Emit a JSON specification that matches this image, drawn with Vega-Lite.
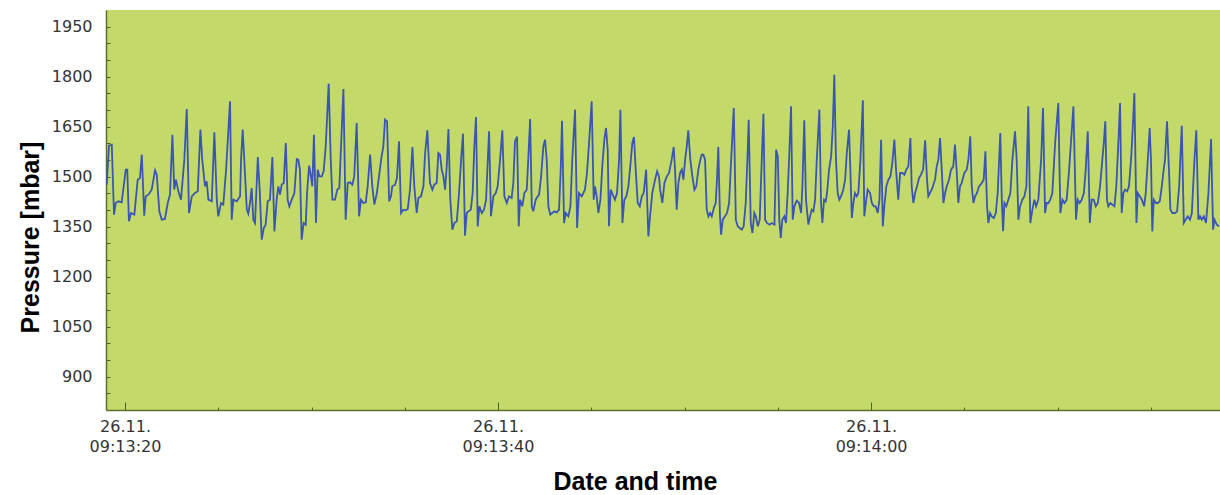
{
  "$schema": "https://vega.github.io/schema/vega-lite/v6.json",
  "width": 1114,
  "height": 400,
  "autosize": "none",
  "padding": {"left": 106, "top": 10, "right": 0, "bottom": 85},
  "background": "white",
  "config": {"view": {"fill": "#c3d96a", "stroke": null}},
  "data": {"values": [
    {"time":"2023-11-26T09:13:19.020","p":1476},{"time":"2023-11-26T09:13:19.140","p":1593},{"time":"2023-11-26T09:13:19.290","p":1596},{"time":"2023-11-26T09:13:19.410","p":1386},{"time":"2023-11-26T09:13:19.500","p":1421},{"time":"2023-11-26T09:13:19.640","p":1426},{"time":"2023-11-26T09:13:19.820","p":1423},{"time":"2023-11-26T09:13:20.040","p":1521},{"time":"2023-11-26T09:13:20.120","p":1521},{"time":"2023-11-26T09:13:20.210","p":1366},{"time":"2023-11-26T09:13:20.320","p":1391},{"time":"2023-11-26T09:13:20.500","p":1386},{"time":"2023-11-26T09:13:20.680","p":1491},{"time":"2023-11-26T09:13:20.800","p":1496},{"time":"2023-11-26T09:13:20.900","p":1566},{"time":"2023-11-26T09:13:21.030","p":1383},{"time":"2023-11-26T09:13:21.110","p":1441},{"time":"2023-11-26T09:13:21.250","p":1446},{"time":"2023-11-26T09:13:21.430","p":1461},{"time":"2023-11-26T09:13:21.610","p":1519},{"time":"2023-11-26T09:13:21.700","p":1506},{"time":"2023-11-26T09:13:21.840","p":1396},{"time":"2023-11-26T09:13:21.970","p":1371},{"time":"2023-11-26T09:13:22.140","p":1373},{"time":"2023-11-26T09:13:22.290","p":1421},{"time":"2023-11-26T09:13:22.410","p":1446},{"time":"2023-11-26T09:13:22.540","p":1626},{"time":"2023-11-26T09:13:22.640","p":1461},{"time":"2023-11-26T09:13:22.730","p":1491},{"time":"2023-11-26T09:13:22.860","p":1456},{"time":"2023-11-26T09:13:23.000","p":1431},{"time":"2023-11-26T09:13:23.180","p":1551},{"time":"2023-11-26T09:13:23.310","p":1703},{"time":"2023-11-26T09:13:23.430","p":1391},{"time":"2023-11-26T09:13:23.580","p":1441},{"time":"2023-11-26T09:13:23.750","p":1451},{"time":"2023-11-26T09:13:23.900","p":1456},{"time":"2023-11-26T09:13:24.040","p":1641},{"time":"2023-11-26T09:13:24.140","p":1551},{"time":"2023-11-26T09:13:24.290","p":1471},{"time":"2023-11-26T09:13:24.380","p":1486},{"time":"2023-11-26T09:13:24.470","p":1431},{"time":"2023-11-26T09:13:24.650","p":1426},{"time":"2023-11-26T09:13:24.790","p":1633},{"time":"2023-11-26T09:13:24.920","p":1431},{"time":"2023-11-26T09:13:25.000","p":1381},{"time":"2023-11-26T09:13:25.150","p":1421},{"time":"2023-11-26T09:13:25.270","p":1416},{"time":"2023-11-26T09:13:25.420","p":1521},{"time":"2023-11-26T09:13:25.630","p":1726},{"time":"2023-11-26T09:13:25.720","p":1371},{"time":"2023-11-26T09:13:25.810","p":1431},{"time":"2023-11-26T09:13:25.990","p":1426},{"time":"2023-11-26T09:13:26.170","p":1441},
    {"time":"2023-11-26T09:13:26.220","p":1551},{"time":"2023-11-26T09:13:26.310","p":1641},{"time":"2023-11-26T09:13:26.530","p":1401},{"time":"2023-11-26T09:13:26.610","p":1389},{"time":"2023-11-26T09:13:26.700","p":1421},{"time":"2023-11-26T09:13:26.790","p":1466},{"time":"2023-11-26T09:13:26.880","p":1371},{"time":"2023-11-26T09:13:26.970","p":1361},{"time":"2023-11-26T09:13:27.120","p":1559},{"time":"2023-11-26T09:13:27.220","p":1461},{"time":"2023-11-26T09:13:27.330","p":1311},{"time":"2023-11-26T09:13:27.440","p":1346},{"time":"2023-11-26T09:13:27.540","p":1356},{"time":"2023-11-26T09:13:27.650","p":1426},{"time":"2023-11-26T09:13:27.770","p":1431},{"time":"2023-11-26T09:13:27.900","p":1559},{"time":"2023-11-26T09:13:28.010","p":1336},{"time":"2023-11-26T09:13:28.130","p":1431},{"time":"2023-11-26T09:13:28.220","p":1471},{"time":"2023-11-26T09:13:28.310","p":1446},{"time":"2023-11-26T09:13:28.400","p":1476},{"time":"2023-11-26T09:13:28.510","p":1481},{"time":"2023-11-26T09:13:28.620","p":1601},{"time":"2023-11-26T09:13:28.720","p":1431},{"time":"2023-11-26T09:13:28.810","p":1411},{"time":"2023-11-26T09:13:28.940","p":1431},{"time":"2023-11-26T09:13:29.080","p":1451},{"time":"2023-11-26T09:13:29.210","p":1553},{"time":"2023-11-26T09:13:29.290","p":1551},{"time":"2023-11-26T09:13:29.380","p":1521},{"time":"2023-11-26T09:13:29.470","p":1311},{"time":"2023-11-26T09:13:29.580","p":1361},{"time":"2023-11-26T09:13:29.690","p":1356},{"time":"2023-11-26T09:13:29.760","p":1451},{"time":"2023-11-26T09:13:29.870","p":1533},{"time":"2023-11-26T09:13:29.970","p":1501},{"time":"2023-11-26T09:13:30.040","p":1471},{"time":"2023-11-26T09:13:30.130","p":1626},{"time":"2023-11-26T09:13:30.240","p":1361},{"time":"2023-11-26T09:13:30.330","p":1521},{"time":"2023-11-26T09:13:30.420","p":1501},{"time":"2023-11-26T09:13:30.550","p":1501},{"time":"2023-11-26T09:13:30.650","p":1516},{"time":"2023-11-26T09:13:30.760","p":1591},{"time":"2023-11-26T09:13:30.920","p":1779},{"time":"2023-11-26T09:13:31.030","p":1551},{"time":"2023-11-26T09:13:31.120","p":1431},{"time":"2023-11-26T09:13:31.260","p":1431},{"time":"2023-11-26T09:13:31.380","p":1461},{"time":"2023-11-26T09:13:31.490","p":1466},{"time":"2023-11-26T09:13:31.710","p":1763},{"time":"2023-11-26T09:13:31.830","p":1371},{"time":"2023-11-26T09:13:31.940","p":1481},{"time":"2023-11-26T09:13:32.060","p":1483},{"time":"2023-11-26T09:13:32.190","p":1476},{"time":"2023-11-26T09:13:32.290","p":1501},{"time":"2023-11-26T09:13:32.420","p":1661},{"time":"2023-11-26T09:13:32.550","p":1381},{"time":"2023-11-26T09:13:32.650","p":1431},{"time":"2023-11-26T09:13:32.780","p":1421},{"time":"2023-11-26T09:13:32.910","p":1423},{"time":"2023-11-26T09:13:33.010","p":1471},{"time":"2023-11-26T09:13:33.140","p":1566},{"time":"2023-11-26T09:13:33.260","p":1471},{"time":"2023-11-26T09:13:33.370","p":1416},{"time":"2023-11-26T09:13:33.500","p":1450},
    {"time":"2023-11-26T09:13:33.620","p":1501},{"time":"2023-11-26T09:13:33.730","p":1551},{"time":"2023-11-26T09:13:33.850","p":1591},{"time":"2023-11-26T09:13:33.940","p":1671},{"time":"2023-11-26T09:13:34.050","p":1666},{"time":"2023-11-26T09:13:34.160","p":1426},{"time":"2023-11-26T09:13:34.260","p":1441},{"time":"2023-11-26T09:13:34.330","p":1471},{"time":"2023-11-26T09:13:34.480","p":1476},{"time":"2023-11-26T09:13:34.580","p":1496},{"time":"2023-11-26T09:13:34.690","p":1606},{"time":"2023-11-26T09:13:34.800","p":1391},{"time":"2023-11-26T09:13:34.920","p":1401},{"time":"2023-11-26T09:13:35.050","p":1399},{"time":"2023-11-26T09:13:35.160","p":1403},{"time":"2023-11-26T09:13:35.280","p":1461},{"time":"2023-11-26T09:13:35.410","p":1589},{"time":"2023-11-26T09:13:35.510","p":1471},{"time":"2023-11-26T09:13:35.640","p":1391},{"time":"2023-11-26T09:13:35.730","p":1436},{"time":"2023-11-26T09:13:35.870","p":1441},{"time":"2023-11-26T09:13:36.000","p":1471},{"time":"2023-11-26T09:13:36.090","p":1571},{"time":"2023-11-26T09:13:36.210","p":1639},{"time":"2023-11-26T09:13:36.350","p":1481},{"time":"2023-11-26T09:13:36.480","p":1461},{"time":"2023-11-26T09:13:36.580","p":1476},{"time":"2023-11-26T09:13:36.710","p":1481},{"time":"2023-11-26T09:13:36.800","p":1571},{"time":"2023-11-26T09:13:36.890","p":1566},{"time":"2023-11-26T09:13:36.980","p":1521},{"time":"2023-11-26T09:13:37.070","p":1501},{"time":"2023-11-26T09:13:37.160","p":1461},{"time":"2023-11-26T09:13:37.250","p":1531},{"time":"2023-11-26T09:13:37.340","p":1643},{"time":"2023-11-26T09:13:37.440","p":1431},{"time":"2023-11-26T09:13:37.550","p":1341},{"time":"2023-11-26T09:13:37.660","p":1361},{"time":"2023-11-26T09:13:37.790","p":1366},{"time":"2023-11-26T09:13:37.910","p":1451},{"time":"2023-11-26T09:13:38.020","p":1551},{"time":"2023-11-26T09:13:38.120","p":1629},{"time":"2023-11-26T09:13:38.230","p":1323},{"time":"2023-11-26T09:13:38.320","p":1391},{"time":"2023-11-26T09:13:38.410","p":1396},{"time":"2023-11-26T09:13:38.540","p":1401},{"time":"2023-11-26T09:13:38.640","p":1451},{"time":"2023-11-26T09:13:38.730","p":1591},{"time":"2023-11-26T09:13:38.820","p":1679},{"time":"2023-11-26T09:13:38.910","p":1351},{"time":"2023-11-26T09:13:39.000","p":1411},{"time":"2023-11-26T09:13:39.130","p":1391},{"time":"2023-11-26T09:13:39.250","p":1401},{"time":"2023-11-26T09:13:39.360","p":1431},{"time":"2023-11-26T09:13:39.450","p":1551},{"time":"2023-11-26T09:13:39.520","p":1636},{"time":"2023-11-26T09:13:39.620","p":1381},{"time":"2023-11-26T09:13:39.750","p":1441},{"time":"2023-11-26T09:13:39.880","p":1451},{"time":"2023-11-26T09:13:39.980","p":1471},{"time":"2023-11-26T09:13:40.110","p":1551},{"time":"2023-11-26T09:13:40.230","p":1639},{"time":"2023-11-26T09:13:40.340","p":1441},{"time":"2023-11-26T09:13:40.470","p":1421},{"time":"2023-11-26T09:13:40.590","p":1441},{"time":"2023-11-26T09:13:40.730","p":1436},{"time":"2023-11-26T09:13:40.820","p":1481},{"time":"2023-11-26T09:13:40.910","p":1606},{"time":"2023-11-26T09:13:41.020","p":1620},{"time":"2023-11-26T09:13:41.110","p":1351},
    {"time":"2023-11-26T09:13:41.180","p":1431},{"time":"2023-11-26T09:13:41.300","p":1411},{"time":"2023-11-26T09:13:41.410","p":1451},{"time":"2023-11-26T09:13:41.540","p":1461},{"time":"2023-11-26T09:13:41.620","p":1551},{"time":"2023-11-26T09:13:41.720","p":1673},{"time":"2023-11-26T09:13:41.810","p":1411},{"time":"2023-11-26T09:13:41.890","p":1396},{"time":"2023-11-26T09:13:42.020","p":1431},{"time":"2023-11-26T09:13:42.130","p":1441},{"time":"2023-11-26T09:13:42.200","p":1446},{"time":"2023-11-26T09:13:42.310","p":1501},{"time":"2023-11-26T09:13:42.430","p":1591},{"time":"2023-11-26T09:13:42.520","p":1611},{"time":"2023-11-26T09:13:42.610","p":1551},{"time":"2023-11-26T09:13:42.700","p":1411},{"time":"2023-11-26T09:13:42.800","p":1386},{"time":"2023-11-26T09:13:42.910","p":1391},{"time":"2023-11-26T09:13:43.020","p":1396},{"time":"2023-11-26T09:13:43.150","p":1393},{"time":"2023-11-26T09:13:43.270","p":1401},{"time":"2023-11-26T09:13:43.360","p":1521},{"time":"2023-11-26T09:13:43.430","p":1668},{"time":"2023-11-26T09:13:43.540","p":1361},{"time":"2023-11-26T09:13:43.630","p":1391},{"time":"2023-11-26T09:13:43.770","p":1381},{"time":"2023-11-26T09:13:43.880","p":1411},{"time":"2023-11-26T09:13:43.980","p":1551},{"time":"2023-11-26T09:13:44.130","p":1701},{"time":"2023-11-26T09:13:44.240","p":1346},{"time":"2023-11-26T09:13:44.340","p":1451},{"time":"2023-11-26T09:13:44.490","p":1441},{"time":"2023-11-26T09:13:44.660","p":1461},{"time":"2023-11-26T09:13:44.770","p":1511},{"time":"2023-11-26T09:13:44.880","p":1601},{"time":"2023-11-26T09:13:45.020","p":1726},{"time":"2023-11-26T09:13:45.130","p":1431},{"time":"2023-11-26T09:13:45.200","p":1471},{"time":"2023-11-26T09:13:45.290","p":1441},{"time":"2023-11-26T09:13:45.380","p":1391},{"time":"2023-11-26T09:13:45.490","p":1431},{"time":"2023-11-26T09:13:45.590","p":1531},{"time":"2023-11-26T09:13:45.700","p":1611},{"time":"2023-11-26T09:13:45.790","p":1646},{"time":"2023-11-26T09:13:45.880","p":1581},{"time":"2023-11-26T09:13:45.950","p":1351},{"time":"2023-11-26T09:13:46.040","p":1461},{"time":"2023-11-26T09:13:46.150","p":1446},{"time":"2023-11-26T09:13:46.270","p":1431},{"time":"2023-11-26T09:13:46.380","p":1451},{"time":"2023-11-26T09:13:46.490","p":1551},{"time":"2023-11-26T09:13:46.560","p":1701},{"time":"2023-11-26T09:13:46.670","p":1361},{"time":"2023-11-26T09:13:46.770","p":1431},{"time":"2023-11-26T09:13:46.880","p":1441},{"time":"2023-11-26T09:13:46.990","p":1471},{"time":"2023-11-26T09:13:47.090","p":1531},{"time":"2023-11-26T09:13:47.200","p":1601},{"time":"2023-11-26T09:13:47.290","p":1619},{"time":"2023-11-26T09:13:47.380","p":1521},{"time":"2023-11-26T09:13:47.490","p":1421},{"time":"2023-11-26T09:13:47.600","p":1411},{"time":"2023-11-26T09:13:47.710","p":1441},{"time":"2023-11-26T09:13:47.810","p":1451},{"time":"2023-11-26T09:13:47.940","p":1521},{"time":"2023-11-26T09:13:48.060","p":1321},{"time":"2023-11-26T09:13:48.150","p":1381},{"time":"2023-11-26T09:13:48.270","p":1451},{"time":"2023-11-26T09:13:48.420","p":1491},{"time":"2023-11-26T09:13:48.530","p":1516},{"time":"2023-11-26T09:13:48.630","p":1500},
    {"time":"2023-11-26T09:13:48.690","p":1461},{"time":"2023-11-26T09:13:48.810","p":1421},{"time":"2023-11-26T09:13:48.920","p":1481},{"time":"2023-11-26T09:13:49.050","p":1501},{"time":"2023-11-26T09:13:49.170","p":1511},{"time":"2023-11-26T09:13:49.310","p":1551},{"time":"2023-11-26T09:13:49.420","p":1589},{"time":"2023-11-26T09:13:49.490","p":1521},{"time":"2023-11-26T09:13:49.580","p":1401},{"time":"2023-11-26T09:13:49.670","p":1481},{"time":"2023-11-26T09:13:49.760","p":1511},{"time":"2023-11-26T09:13:49.850","p":1521},{"time":"2023-11-26T09:13:49.940","p":1491},{"time":"2023-11-26T09:13:50.030","p":1551},{"time":"2023-11-26T09:13:50.120","p":1591},{"time":"2023-11-26T09:13:50.200","p":1639},{"time":"2023-11-26T09:13:50.310","p":1551},{"time":"2023-11-26T09:13:50.420","p":1501},{"time":"2023-11-26T09:13:50.530","p":1461},{"time":"2023-11-26T09:13:50.630","p":1471},{"time":"2023-11-26T09:13:50.740","p":1521},{"time":"2023-11-26T09:13:50.850","p":1551},{"time":"2023-11-26T09:13:50.920","p":1566},{"time":"2023-11-26T09:13:51.010","p":1566},{"time":"2023-11-26T09:13:51.100","p":1551},{"time":"2023-11-26T09:13:51.190","p":1401},{"time":"2023-11-26T09:13:51.280","p":1381},{"time":"2023-11-26T09:13:51.370","p":1391},{"time":"2023-11-26T09:13:51.460","p":1381},{"time":"2023-11-26T09:13:51.570","p":1406},{"time":"2023-11-26T09:13:51.670","p":1421},{"time":"2023-11-26T09:13:51.740","p":1491},{"time":"2023-11-26T09:13:51.810","p":1589},{"time":"2023-11-26T09:13:51.900","p":1381},{"time":"2023-11-26T09:13:51.960","p":1326},{"time":"2023-11-26T09:13:52.050","p":1371},{"time":"2023-11-26T09:13:52.170","p":1381},{"time":"2023-11-26T09:13:52.280","p":1391},{"time":"2023-11-26T09:13:52.390","p":1421},{"time":"2023-11-26T09:13:52.490","p":1541},{"time":"2023-11-26T09:13:52.640","p":1706},{"time":"2023-11-26T09:13:52.750","p":1371},{"time":"2023-11-26T09:13:52.850","p":1351},{"time":"2023-11-26T09:13:52.960","p":1346},{"time":"2023-11-26T09:13:53.070","p":1341},{"time":"2023-11-26T09:13:53.170","p":1351},{"time":"2023-11-26T09:13:53.280","p":1421},{"time":"2023-11-26T09:13:53.370","p":1551},{"time":"2023-11-26T09:13:53.440","p":1671},{"time":"2023-11-26T09:13:53.550","p":1361},{"time":"2023-11-26T09:13:53.640","p":1331},{"time":"2023-11-26T09:13:53.740","p":1391},{"time":"2023-11-26T09:13:53.820","p":1381},{"time":"2023-11-26T09:13:53.930","p":1351},{"time":"2023-11-26T09:13:54.030","p":1371},{"time":"2023-11-26T09:13:54.140","p":1551},{"time":"2023-11-26T09:13:54.230","p":1689},{"time":"2023-11-26T09:13:54.320","p":1371},{"time":"2023-11-26T09:13:54.420","p":1361},{"time":"2023-11-26T09:13:54.550","p":1356},{"time":"2023-11-26T09:13:54.680","p":1361},{"time":"2023-11-26T09:13:54.820","p":1356},{"time":"2023-11-26T09:13:54.910","p":1581},{"time":"2023-11-26T09:13:55.000","p":1561},{"time":"2023-11-26T09:13:55.080","p":1371},{"time":"2023-11-26T09:13:55.160","p":1316},{"time":"2023-11-26T09:13:55.240","p":1371},{"time":"2023-11-26T09:13:55.350","p":1381},{"time":"2023-11-26T09:13:55.440","p":1361},{"time":"2023-11-26T09:13:55.530","p":1451},{"time":"2023-11-26T09:13:55.620","p":1571},{"time":"2023-11-26T09:13:55.710","p":1711},{"time":"2023-11-26T09:13:55.800","p":1371},{"time":"2023-11-26T09:13:55.890","p":1411},{"time":"2023-11-26T09:13:56.020","p":1428},{"time":"2023-11-26T09:13:56.140","p":1421},
    {"time":"2023-11-26T09:13:56.250","p":1391},{"time":"2023-11-26T09:13:56.320","p":1471},{"time":"2023-11-26T09:13:56.420","p":1669},{"time":"2023-11-26T09:13:56.510","p":1431},{"time":"2023-11-26T09:13:56.640","p":1356},{"time":"2023-11-26T09:13:56.730","p":1381},{"time":"2023-11-26T09:13:56.820","p":1401},{"time":"2023-11-26T09:13:56.910","p":1396},{"time":"2023-11-26T09:13:57.000","p":1431},{"time":"2023-11-26T09:13:57.090","p":1551},{"time":"2023-11-26T09:13:57.230","p":1701},{"time":"2023-11-26T09:13:57.320","p":1421},{"time":"2023-11-26T09:13:57.390","p":1361},{"time":"2023-11-26T09:13:57.480","p":1431},{"time":"2023-11-26T09:13:57.570","p":1426},{"time":"2023-11-26T09:13:57.640","p":1451},{"time":"2023-11-26T09:13:57.750","p":1521},{"time":"2023-11-26T09:13:57.860","p":1561},{"time":"2023-11-26T09:13:57.950","p":1651},{"time":"2023-11-26T09:13:58.030","p":1806},{"time":"2023-11-26T09:13:58.120","p":1551},{"time":"2023-11-26T09:13:58.210","p":1451},{"time":"2023-11-26T09:13:58.300","p":1431},{"time":"2023-11-26T09:13:58.390","p":1441},{"time":"2023-11-26T09:13:58.510","p":1461},{"time":"2023-11-26T09:13:58.610","p":1491},{"time":"2023-11-26T09:13:58.700","p":1571},{"time":"2023-11-26T09:13:58.820","p":1641},{"time":"2023-11-26T09:13:58.890","p":1521},{"time":"2023-11-26T09:13:58.970","p":1376},{"time":"2023-11-26T09:13:59.050","p":1421},{"time":"2023-11-26T09:13:59.140","p":1451},{"time":"2023-11-26T09:13:59.230","p":1441},{"time":"2023-11-26T09:13:59.320","p":1451},{"time":"2023-11-26T09:13:59.430","p":1551},{"time":"2023-11-26T09:13:59.560","p":1729},{"time":"2023-11-26T09:13:59.640","p":1381},{"time":"2023-11-26T09:13:59.720","p":1421},{"time":"2023-11-26T09:13:59.820","p":1461},{"time":"2023-11-26T09:13:59.950","p":1451},{"time":"2023-11-26T09:14:00.040","p":1421},{"time":"2023-11-26T09:14:00.150","p":1411},{"time":"2023-11-26T09:14:00.250","p":1411},{"time":"2023-11-26T09:14:00.360","p":1391},{"time":"2023-11-26T09:14:00.450","p":1431},{"time":"2023-11-26T09:14:00.540","p":1611},{"time":"2023-11-26T09:14:00.630","p":1351},{"time":"2023-11-26T09:14:00.710","p":1411},{"time":"2023-11-26T09:14:00.820","p":1471},{"time":"2023-11-26T09:14:00.930","p":1491},{"time":"2023-11-26T09:14:01.040","p":1501},{"time":"2023-11-26T09:14:01.140","p":1541},{"time":"2023-11-26T09:14:01.250","p":1611},{"time":"2023-11-26T09:14:01.340","p":1521},{"time":"2023-11-26T09:14:01.460","p":1431},{"time":"2023-11-26T09:14:01.560","p":1511},{"time":"2023-11-26T09:14:01.680","p":1511},{"time":"2023-11-26T09:14:01.790","p":1506},{"time":"2023-11-26T09:14:01.890","p":1521},{"time":"2023-11-26T09:14:02.000","p":1531},{"time":"2023-11-26T09:14:02.110","p":1616},{"time":"2023-11-26T09:14:02.180","p":1471},{"time":"2023-11-26T09:14:02.270","p":1421},{"time":"2023-11-26T09:14:02.360","p":1451},{"time":"2023-11-26T09:14:02.470","p":1471},{"time":"2023-11-26T09:14:02.570","p":1496},{"time":"2023-11-26T09:14:02.680","p":1506},{"time":"2023-11-26T09:14:02.790","p":1521},{"time":"2023-11-26T09:14:02.900","p":1609},{"time":"2023-11-26T09:14:03.000","p":1491},{"time":"2023-11-26T09:14:03.070","p":1441},{"time":"2023-11-26T09:14:03.160","p":1451},{"time":"2023-11-26T09:14:03.290","p":1466},{"time":"2023-11-26T09:14:03.430","p":1491},
    {"time":"2023-11-26T09:14:03.520","p":1531},{"time":"2023-11-26T09:14:03.610","p":1551},{"time":"2023-11-26T09:14:03.700","p":1616},{"time":"2023-11-26T09:14:03.790","p":1521},{"time":"2023-11-26T09:14:03.880","p":1421},{"time":"2023-11-26T09:14:03.970","p":1451},{"time":"2023-11-26T09:14:04.060","p":1471},{"time":"2023-11-26T09:14:04.180","p":1491},{"time":"2023-11-26T09:14:04.290","p":1521},{"time":"2023-11-26T09:14:04.410","p":1531},{"time":"2023-11-26T09:14:04.500","p":1596},{"time":"2023-11-26T09:14:04.600","p":1511},{"time":"2023-11-26T09:14:04.680","p":1421},{"time":"2023-11-26T09:14:04.770","p":1471},{"time":"2023-11-26T09:14:04.860","p":1481},{"time":"2023-11-26T09:14:05.000","p":1511},{"time":"2023-11-26T09:14:05.130","p":1521},{"time":"2023-11-26T09:14:05.220","p":1551},{"time":"2023-11-26T09:14:05.320","p":1621},{"time":"2023-11-26T09:14:05.400","p":1471},{"time":"2023-11-26T09:14:05.490","p":1421},{"time":"2023-11-26T09:14:05.580","p":1441},{"time":"2023-11-26T09:14:05.680","p":1451},{"time":"2023-11-26T09:14:05.790","p":1471},{"time":"2023-11-26T09:14:05.940","p":1481},{"time":"2023-11-26T09:14:06.040","p":1491},{"time":"2023-11-26T09:14:06.130","p":1576},{"time":"2023-11-26T09:14:06.220","p":1411},{"time":"2023-11-26T09:14:06.290","p":1361},{"time":"2023-11-26T09:14:06.380","p":1391},{"time":"2023-11-26T09:14:06.470","p":1381},{"time":"2023-11-26T09:14:06.580","p":1376},{"time":"2023-11-26T09:14:06.690","p":1391},{"time":"2023-11-26T09:14:06.790","p":1451},{"time":"2023-11-26T09:14:06.930","p":1631},{"time":"2023-11-26T09:14:07.010","p":1431},{"time":"2023-11-26T09:14:07.080","p":1336},{"time":"2023-11-26T09:14:07.150","p":1421},{"time":"2023-11-26T09:14:07.250","p":1411},{"time":"2023-11-26T09:14:07.360","p":1431},{"time":"2023-11-26T09:14:07.470","p":1451},{"time":"2023-11-26T09:14:07.580","p":1551},{"time":"2023-11-26T09:14:07.720","p":1636},{"time":"2023-11-26T09:14:07.810","p":1551},{"time":"2023-11-26T09:14:07.900","p":1371},{"time":"2023-11-26T09:14:07.990","p":1411},{"time":"2023-11-26T09:14:08.110","p":1431},{"time":"2023-11-26T09:14:08.220","p":1441},{"time":"2023-11-26T09:14:08.330","p":1471},{"time":"2023-11-26T09:14:08.430","p":1711},{"time":"2023-11-26T09:14:08.540","p":1361},{"time":"2023-11-26T09:14:08.650","p":1401},{"time":"2023-11-26T09:14:08.760","p":1431},{"time":"2023-11-26T09:14:08.850","p":1411},{"time":"2023-11-26T09:14:08.970","p":1431},{"time":"2023-11-26T09:14:09.120","p":1551},{"time":"2023-11-26T09:14:09.220","p":1706},{"time":"2023-11-26T09:14:09.330","p":1391},{"time":"2023-11-26T09:14:09.420","p":1421},{"time":"2023-11-26T09:14:09.510","p":1421},{"time":"2023-11-26T09:14:09.610","p":1431},{"time":"2023-11-26T09:14:09.720","p":1451},{"time":"2023-11-26T09:14:09.870","p":1601},{"time":"2023-11-26T09:14:10.040","p":1721},{"time":"2023-11-26T09:14:10.150","p":1391},{"time":"2023-11-26T09:14:10.260","p":1431},{"time":"2023-11-26T09:14:10.370","p":1421},{"time":"2023-11-26T09:14:10.490","p":1431},{"time":"2023-11-26T09:14:10.620","p":1521},{"time":"2023-11-26T09:14:10.850","p":1711},
    {"time":"2023-11-26T09:14:10.990","p":1371},{"time":"2023-11-26T09:14:11.080","p":1431},{"time":"2023-11-26T09:14:11.190","p":1421},{"time":"2023-11-26T09:14:11.300","p":1431},{"time":"2023-11-26T09:14:11.410","p":1451},{"time":"2023-11-26T09:14:11.510","p":1521},{"time":"2023-11-26T09:14:11.620","p":1636},{"time":"2023-11-26T09:14:11.730","p":1361},{"time":"2023-11-26T09:14:11.830","p":1431},{"time":"2023-11-26T09:14:11.940","p":1431},{"time":"2023-11-26T09:14:12.050","p":1411},{"time":"2023-11-26T09:14:12.160","p":1421},{"time":"2023-11-26T09:14:12.280","p":1471},{"time":"2023-11-26T09:14:12.370","p":1531},{"time":"2023-11-26T09:14:12.480","p":1601},{"time":"2023-11-26T09:14:12.560","p":1666},{"time":"2023-11-26T09:14:12.650","p":1431},{"time":"2023-11-26T09:14:12.720","p":1411},{"time":"2023-11-26T09:14:12.830","p":1421},{"time":"2023-11-26T09:14:12.940","p":1416},{"time":"2023-11-26T09:14:13.050","p":1411},{"time":"2023-11-26T09:14:13.150","p":1471},{"time":"2023-11-26T09:14:13.260","p":1601},{"time":"2023-11-26T09:14:13.350","p":1721},{"time":"2023-11-26T09:14:13.440","p":1391},{"time":"2023-11-26T09:14:13.530","p":1451},{"time":"2023-11-26T09:14:13.620","p":1461},{"time":"2023-11-26T09:14:13.730","p":1456},{"time":"2023-11-26T09:14:13.830","p":1471},{"time":"2023-11-26T09:14:13.940","p":1551},{"time":"2023-11-26T09:14:14.010","p":1621},{"time":"2023-11-26T09:14:14.120","p":1751},{"time":"2023-11-26T09:14:14.230","p":1361},{"time":"2023-11-26T09:14:14.300","p":1451},{"time":"2023-11-26T09:14:14.410","p":1441},{"time":"2023-11-26T09:14:14.520","p":1431},{"time":"2023-11-26T09:14:14.640","p":1411},{"time":"2023-11-26T09:14:14.730","p":1451},{"time":"2023-11-26T09:14:14.840","p":1551},{"time":"2023-11-26T09:14:14.940","p":1646},{"time":"2023-11-26T09:14:15.010","p":1551},{"time":"2023-11-26T09:14:15.080","p":1336},{"time":"2023-11-26T09:14:15.160","p":1431},{"time":"2023-11-26T09:14:15.270","p":1421},{"time":"2023-11-26T09:14:15.370","p":1421},{"time":"2023-11-26T09:14:15.480","p":1426},{"time":"2023-11-26T09:14:15.590","p":1471},{"time":"2023-11-26T09:14:15.670","p":1511},{"time":"2023-11-26T09:14:15.760","p":1551},{"time":"2023-11-26T09:14:15.870","p":1666},{"time":"2023-11-26T09:14:15.980","p":1511},{"time":"2023-11-26T09:14:16.050","p":1401},{"time":"2023-11-26T09:14:16.160","p":1391},{"time":"2023-11-26T09:14:16.300","p":1391},{"time":"2023-11-26T09:14:16.410","p":1396},{"time":"2023-11-26T09:14:16.520","p":1471},{"time":"2023-11-26T09:14:16.660","p":1653},{"time":"2023-11-26T09:14:16.770","p":1361},{"time":"2023-11-26T09:14:16.870","p":1371},{"time":"2023-11-26T09:14:16.980","p":1381},{"time":"2023-11-26T09:14:17.100","p":1371},{"time":"2023-11-26T09:14:17.200","p":1391},{"time":"2023-11-26T09:14:17.340","p":1551},{"time":"2023-11-26T09:14:17.440","p":1639},{"time":"2023-11-26T09:14:17.550","p":1371},{"time":"2023-11-26T09:14:17.640","p":1381},{"time":"2023-11-26T09:14:17.730","p":1371},{"time":"2023-11-26T09:14:17.840","p":1381},{"time":"2023-11-26T09:14:17.960","p":1361},{"time":"2023-11-26T09:14:18.090","p":1451},{"time":"2023-11-26T09:14:18.230","p":1613},{"time":"2023-11-26T09:14:18.340","p":1341},{"time":"2023-11-26T09:14:18.410","p":1371},{"time":"2023-11-26T09:14:18.540","p":1356},{"time":"2023-11-26T09:14:18.660","p":1351}
  ]},
  "mark": {"type": "line", "color": "#3a55b3", "strokeWidth": 1.8, "clip": true},
  "encoding": {
    "x": {
      "field": "time",
      "type": "temporal",
      "scale": {"domain": [
        {"year": 2023, "month": 11, "date": 26, "hours": 9, "minutes": 13, "seconds": 18, "milliseconds": 980},
        {"year": 2023, "month": 11, "date": 26, "hours": 9, "minutes": 14, "seconds": 18, "milliseconds": 710}
      ]},
      "axis": {
        "values": [
          {"year": 2023, "month": 11, "date": 26, "hours": 9, "minutes": 13, "seconds": 20},
          {"year": 2023, "month": 11, "date": 26, "hours": 9, "minutes": 13, "seconds": 25},
          {"year": 2023, "month": 11, "date": 26, "hours": 9, "minutes": 13, "seconds": 30},
          {"year": 2023, "month": 11, "date": 26, "hours": 9, "minutes": 13, "seconds": 35},
          {"year": 2023, "month": 11, "date": 26, "hours": 9, "minutes": 13, "seconds": 40},
          {"year": 2023, "month": 11, "date": 26, "hours": 9, "minutes": 13, "seconds": 45},
          {"year": 2023, "month": 11, "date": 26, "hours": 9, "minutes": 13, "seconds": 50},
          {"year": 2023, "month": 11, "date": 26, "hours": 9, "minutes": 13, "seconds": 55},
          {"year": 2023, "month": 11, "date": 26, "hours": 9, "minutes": 14, "seconds": 0},
          {"year": 2023, "month": 11, "date": 26, "hours": 9, "minutes": 14, "seconds": 5},
          {"year": 2023, "month": 11, "date": 26, "hours": 9, "minutes": 14, "seconds": 10},
          {"year": 2023, "month": 11, "date": 26, "hours": 9, "minutes": 14, "seconds": 15}
        ],
        "labelExpr": "seconds(datum.value) % 20 == 0 ? [timeFormat(datum.value, '%d.%m.'), timeFormat(datum.value, '%H:%M:%S')] : ''",
        "labelOverlap": false,
        "labelFlush": false,
        "labelFont": "DejaVu Sans",
        "labelFontSize": 16,
        "labelColor": "#333333",
        "labelLineHeight": 20,
        "labelBaseline": "top",
        "labelPadding": 16,
        "tickSize": {"condition": {"test": "seconds(datum.value) % 20 == 0", "value": -8}, "value": -3},
        "tickColor": "#4f5f22",
        "tickWidth": 1,
        "domainColor": "#5d6d2d",
        "domainWidth": 1.5,
        "grid": false,
        "title": "Date and time",
        "titleFont": "Liberation Sans",
        "titleFontSize": 25,
        "titleFontWeight": "bold",
        "titleColor": "#000000",
        "titleX": 529,
        "titleY": 84,
        "titleBaseline": "bottom",
        "titleAlign": "center"
      }
    },
    "y": {
      "field": "p",
      "type": "quantitative",
      "scale": {"domain": [800, 2000], "nice": false, "zero": false},
      "axis": {
        "values": [850, 900, 950, 1000, 1050, 1100, 1150, 1200, 1250, 1300, 1350, 1400, 1450, 1500, 1550, 1600, 1650, 1700, 1750, 1800, 1850, 1900, 1950],
        "format": "d",
        "labelExpr": "(datum.value - 900) % 150 == 0 ? datum.label : ''",
        "labelOverlap": false,
        "labelFont": "DejaVu Sans",
        "labelFontSize": 16,
        "labelColor": "#333333",
        "labelPadding": 18,
        "tickSize": -4,
        "tickColor": "#4f5f22",
        "domainColor": "#5d6d2d",
        "domainWidth": 1.5,
        "grid": false,
        "title": "Pressure [mbar]",
        "titleFont": "Liberation Sans",
        "titleFontSize": 25,
        "titleFontWeight": "bold",
        "titleColor": "#000000",
        "titleAngle": -90,
        "titleX": -76,
        "titleY": 227,
        "titleBaseline": "middle",
        "titleAlign": "center"
      }
    }
  }
}
